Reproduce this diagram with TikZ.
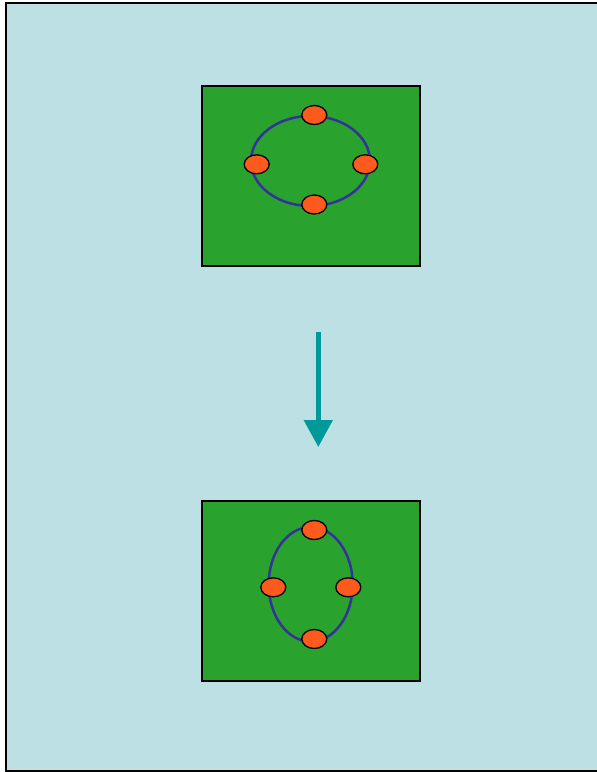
\documentclass[tikz,border=0pt]{standalone}
\usetikzlibrary{shapes.geometric,arrows.meta}
\definecolor{panelbg}{HTML}{BCE0E3}
\definecolor{fieldgreen}{HTML}{2AA22E}
\definecolor{dotorange}{HTML}{FF5A1E}
\definecolor{ringblue}{HTML}{333399}
\definecolor{arrowteal}{HTML}{009999}
\tikzset{
  field/.style={draw=black, line width=1.5pt, fill=fieldgreen, inner sep=0pt,
    minimum width=218pt, minimum height=180pt},
  ring/.style={draw=ringblue, line width=2.5pt},
  dot/.style={ellipse, draw=black, line width=1.3pt, fill=dotorange, inner sep=0pt,
    minimum width=25pt, minimum height=19pt},
  flow/.style={draw=arrowteal, line width=5pt,
    -{Triangle[width=28pt,length=27pt]}}
}
\begin{document}
\begin{tikzpicture}[x=1pt,y=-1pt]
\useasboundingbox (0,0) rectangle (597,772);
% panel
\fill[white] (0,0) rectangle (597,772);
\draw[black, line width=1.5pt, fill=panelbg] (6,3) rectangle (605,771);

% upper field: wide ring
\node[field] (top) at (311,176) {};
\draw[ring] (310.5,161) ellipse [x radius=59.5, y radius=45];
\node[dot] (t1) at (314.3,115) {};
\node[dot] (t2) at (314.3,204.5) {};
\node[dot] (t3) at (256.7,164.3) {};
\node[dot] (t4) at (365.3,164.3) {};

% lower field: tall ring
\node[field] (bot) at (311,591) {};
\draw[ring] (310.7,584.3) ellipse [x radius=42, y radius=57.3];
\node[dot] (b1) at (314.3,530) {};
\node[dot] (b2) at (314.3,639) {};
\node[dot] (b3) at (273.3,587.3) {};
\node[dot] (b4) at (348.3,587.3) {};

% transition arrow
\coordinate (a0) at (318.3,332);
\coordinate (a1) at (318.3,447);
\draw[flow] (a0) -- (a1);
\end{tikzpicture}
\end{document}
